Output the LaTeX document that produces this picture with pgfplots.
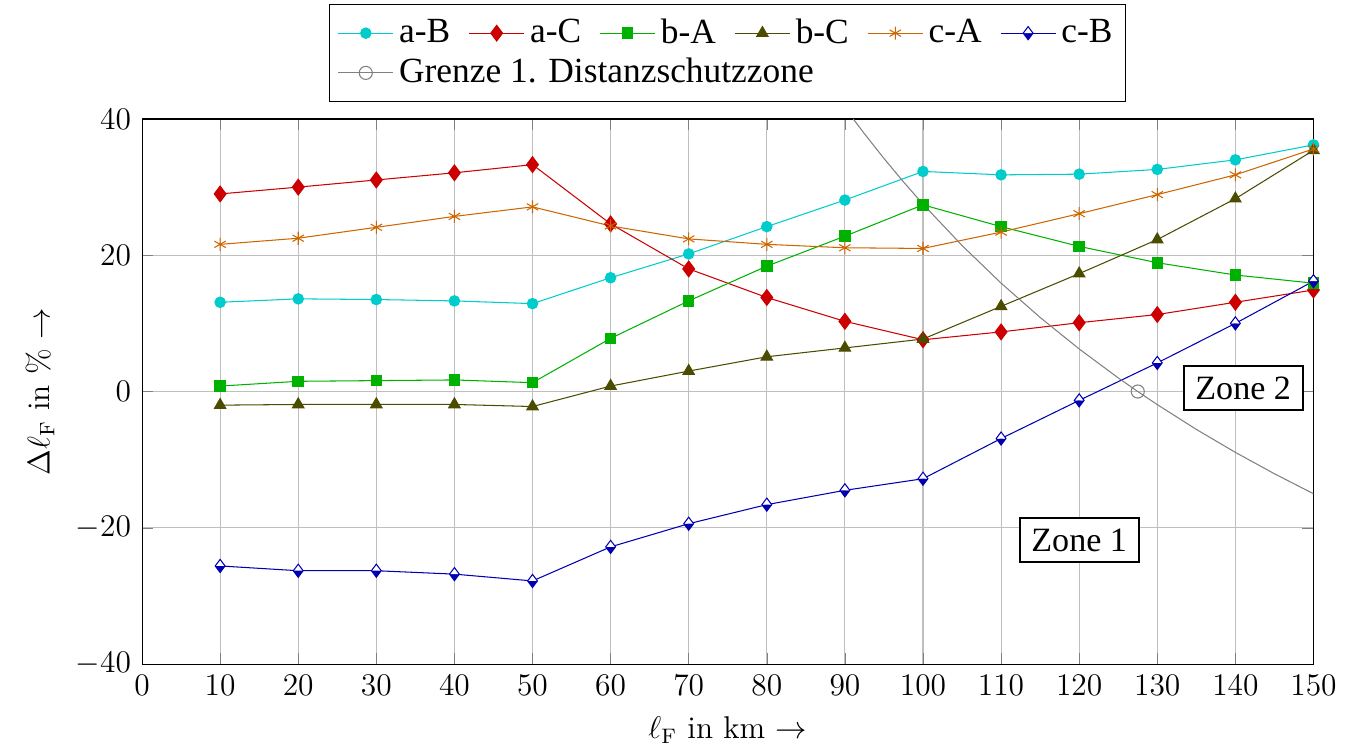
\documentclass[border=0pt,12pt]{standalone}
\usepackage{fontspec}
\usepackage{pgfplots}
\pgfplotsset{compat=1.18}
\usetikzlibrary{plotmarks}
\newfontfamily\lf{Liberation Serif}
\definecolor{cAB}{rgb}{0,0.8,0.8}
\definecolor{cAC}{rgb}{0.8,0,0}
\definecolor{cBA}{rgb}{0,0.7,0}
\definecolor{cBC}{rgb}{0.3,0.3,0}
\definecolor{cCA}{rgb}{0.8,0.4,0}
\definecolor{cCB}{rgb}{0,0,0.7}
\definecolor{cGR}{rgb}{0.5,0.5,0.5}
\begin{document}
\begin{tikzpicture}
\begin{axis}[
  name=ax,
  scale only axis,
  width=447pt, height=208pt,
  xmin=0, xmax=150, ymin=-40, ymax=40,
  xtick={0,10,...,150},
  ytick={-40,-20,...,40},
  grid=major,
  xlabel={$\ell_\mathrm{F}$ in km $\rightarrow$},
  ylabel={$\Delta\ell_\mathrm{F}$ in \% $\rightarrow$},
  legend columns=6,
  legend cell align=left,
  legend image code/.code={\draw[mark repeat=2,mark phase=2] plot coordinates {(0cm,0cm)(0.37cm,0cm)(0.74cm,0cm)};},
  legend style={at={(axis description cs:0.5,1)}, anchor=south, yshift=6.5pt,
    font=\lf\fontsize{13.5}{16}\selectfont, draw=black, inner ysep=3.3pt,
    /tikz/every even column/.append style={column sep=5pt}},
]
\addplot[color=cAB, mark=*, mark options={fill=cAB}] coordinates {
(10,13.1)(20,13.6)(30,13.5)(40,13.3)(50,12.9)(60,16.7)(70,20.2)(80,24.2)
(90,28.1)(100,32.3)(110,31.8)(120,31.9)(130,32.6)(140,34.0)(150,36.2)};
\addlegendentry{a-B}
\addplot[color=cAC, mark=diamond*, mark size=3pt, mark options={fill=cAC}] coordinates {
(10,29.0)(20,30.0)(30,31.05)(40,32.1)(50,33.3)(60,24.6)(70,18.0)(80,13.8)
(90,10.3)(100,7.6)(110,8.75)(120,10.1)(130,11.3)(140,13.1)(150,14.9)};
\addlegendentry{a-C}
\addplot[color=cBA, mark=square*, mark options={fill=cBA}] coordinates {
(10,0.8)(20,1.5)(30,1.6)(40,1.7)(50,1.3)(60,7.8)(70,13.3)(80,18.4)
(90,22.8)(100,27.4)(110,24.2)(120,21.3)(130,18.9)(140,17.1)(150,15.9)};
\addlegendentry{b-A}
\addplot[color=cBC, mark=triangle*, mark size=2.5pt, mark options={fill=cBC}] coordinates {
(10,-2.0)(20,-1.9)(30,-1.9)(40,-1.9)(50,-2.2)(60,0.8)(70,3.0)(80,5.1)
(90,6.4)(100,7.7)(110,12.5)(120,17.3)(130,22.3)(140,28.3)(150,35.4)};
\addlegendentry{b-C}
\addplot[color=cCA, mark=asterisk, mark size=2.5pt] coordinates {
(10,21.6)(20,22.5)(30,24.1)(40,25.7)(50,27.1)(60,24.3)(70,22.4)(80,21.6)
(90,21.1)(100,21.0)(110,23.4)(120,26.1)(130,28.9)(140,31.8)(150,35.6)};
\addlegendentry{c-A}
\addplot[color=cCB, mark=halfdiamond*, mark size=2.5pt, mark options={fill=cCB, mark color=white}] coordinates {
(10,-25.6)(20,-26.3)(30,-26.3)(40,-26.8)(50,-27.8)(60,-22.8)(70,-19.4)(80,-16.6)
(90,-14.5)(100,-12.8)(110,-6.9)(120,-1.3)(130,4.2)(140,10.0)(150,16.2)};
\addlegendentry{c-B}
\addplot[color=cGR, mark=o, mark size=2.5pt, mark indices={11},
  legend image code/.code={\draw (0cm,0cm)--(0.74cm,0cm); \draw[mark=o, mark size=2.5pt, mark indices={1}] plot coordinates {(0.37cm,0cm)};}] coordinates {
(91.07,40.0)(92.5,37.84)(95,34.21)(97.5,30.77)(100,27.5)(105,21.43)(110,15.91)
(115,10.87)(120,6.25)(125,2.0)(127.5,0)(130,-1.92)(135,-5.56)(140,-8.93)(145,-12.07)(150,-15.0)};
\addlegendentry{\makebox[0pt][l]{Grenze 1. Distanzschutzzone}}
\node[draw=black, fill=white, line width=0.8pt, inner xsep=4.5pt, inner ysep=4pt,
  font=\lf\fontsize{13}{15}\selectfont] at (axis cs:141,0.5) {Zone 2};
\node[draw=black, fill=white, line width=0.8pt, inner xsep=4.5pt, inner ysep=4pt,
  font=\lf\fontsize{13}{15}\selectfont] at (axis cs:120,-21.8) {Zone 1};
\end{axis}
\path ([xshift=-54.2pt,yshift=45.4pt]ax.north west) ([xshift=17pt]ax.south east);
\end{tikzpicture}
\end{document}
